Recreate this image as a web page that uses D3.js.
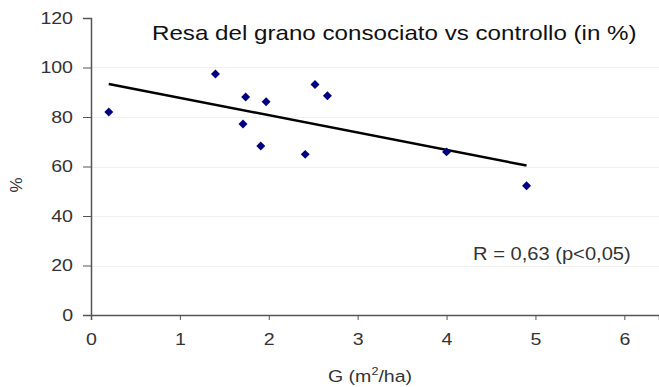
<!DOCTYPE html>
<html>
<head>
<meta charset="utf-8">
<script src="https://cdn.jsdelivr.net/npm/d3@7"></script>
<style>
  body { margin: 0; background: #fff; }
  text { font-family: "Liberation Sans", Arial, sans-serif; }
</style>
</head>
<body>
<svg id="chart"></svg>
<script>
const width = 659
const height = 387

// G (m2/ha) vs resa (%)
const gValues = [0.2, 1.4, 1.74, 1.71, 1.97, 1.91, 2.52, 2.66, 2.41, 4.0, 4.9];
const yieldValues = [82, 97.4, 88.1, 77.2, 86.2, 68.3, 93.1, 88.6, 64.9, 65.9, 52.2];
const xTicks = [0, 1, 2, 3, 4, 5, 6];
const yTicks = [0, 20, 40, 60, 80, 100, 120];

const points = gValues.map((g, i) => ({x: g, y: yieldValues[i]}));

// linear trend line (least squares)
const mx = d3.mean(gValues), my = d3.mean(yieldValues);
const slope = d3.sum(points, d => (d.x - mx) * (d.y - my)) / d3.sum(points, d => (d.x - mx) ** 2);
const intercept = my - slope * mx;
const [xmin, xmax] = d3.extent(gValues);
const trend = [xmin, xmax].map(x => ({x, y: intercept + slope * x}));

const x = d3.scaleLinear().domain([0, 6.39]).range([91, 659]);
const y = d3.scaleLinear().domain([0, 120]).range([315, 18]);

// the original picture is a bit wider than the font, stretch text horizontally
const stretch = (sel, k = 1.15) => sel.each(function() {
  const w = this.getComputedTextLength();
  d3.select(this).attr("textLength", w * k).attr("lengthAdjust", "spacingAndGlyphs");
});

const svg = d3.select("#chart")
    .attr("width", width)
    .attr("height", height);

// faint grid
svg.append("g")
  .selectAll("line")
  .data(yTicks.filter(d => d > 0 && d < 120))
  .join("line")
    .attr("x1", 92).attr("x2", 659)
    .attr("y1", d => Math.round(y(d)) + 0.5)
    .attr("y2", d => Math.round(y(d)) + 0.5)
    .attr("stroke", "#f0f0f0");

const yAxis = svg.append("g")
    .attr("transform", "translate(91,0)")
    .call(d3.axisLeft(y).tickValues(yTicks).tickSize(8).tickPadding(10).tickFormat(d3.format("d")));

const xAxis = svg.append("g")
    .attr("transform", "translate(0,315)")
    .call(d3.axisBottom(x).tickValues(xTicks).tickSize(5).tickPadding(13).tickFormat(d3.format("d")));

[xAxis, yAxis].forEach(a => {
  a.select(".domain").attr("stroke", "#555").attr("stroke-width", 1.5);
  a.selectAll(".tick line").attr("stroke", "#555");
  a.selectAll(".tick text")
      .attr("fill", "#333")
      .style("font-size", "17px")
      .style("font-family", "Liberation Sans, Arial, sans-serif")
      .call(stretch);
});

svg.append("path")
    .datum(trend)
    .attr("fill", "none")
    .attr("stroke", "#000")
    .attr("stroke-width", 2.5)
    .attr("d", d3.line().x(d => x(d.x)).y(d => y(d.y)));

svg.append("g")
  .selectAll("path")
  .data(points)
  .join("path")
    .attr("d", d3.symbol(d3.symbolSquare, 40))
    .attr("transform", d => `translate(${x(d.x)},${y(d.y)}) rotate(45)`)
    .attr("fill", "#000080");

svg.append("text")
    .attr("x", 152).attr("y", 40)
    .attr("fill", "#111")
    .style("font-size", "21px")
    .text("Resa del grano consociato vs controllo (in %)")
    .call(stretch);

svg.append("text")
    .attr("x", 473).attr("y", 260)
    .attr("fill", "#333")
    .style("font-size", "17.5px")
    .text("R = 0,63 (p<0,05)")
    .call(stretch);

svg.append("text")
    .attr("transform", "translate(22,185) rotate(-90)")
    .attr("text-anchor", "middle")
    .attr("fill", "#333")
    .style("font-size", "17px")
    .text("%");

const xl = svg.append("text")
    .attr("transform", "translate(328,382) scale(1.15,1)")
    .attr("fill", "#333")
    .style("font-size", "17px");
xl.append("tspan").text("G  (m");
xl.append("tspan").attr("dy", -7).style("font-size", "11px").text("2");
xl.append("tspan").attr("dy", 7).text("/ha)");
</script>
</body>
</html>
